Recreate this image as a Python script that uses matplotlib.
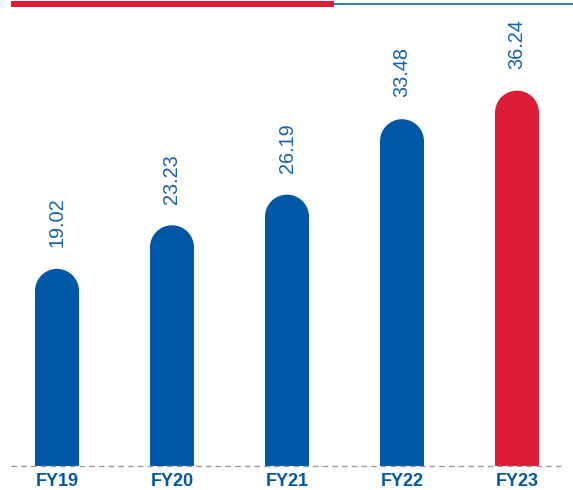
import matplotlib
matplotlib.use('Agg')
import matplotlib.pyplot as plt
from matplotlib.patches import Rectangle, Ellipse
from matplotlib.lines import Line2D

# data
years = ['FY19', 'FY20', 'FY21', 'FY22', 'FY23']
values = [19.02, 23.23, 26.19, 33.48, 36.24]

BLUE = '#0057A6'
LABEL_BLUE = '#1462AE'
RED = '#DC1B34'
bar_colors = [BLUE, BLUE, BLUE, BLUE, RED]

W, H = 573, 490
fig = plt.figure(figsize=(W / 100, H / 100), dpi=100)

# pixel layout: baseline at y=465.7 px from top, ~10.35 px per unit, bars every 115 px
base_px = H - 465.7
px_per_unit = 10.35
ax = fig.add_axes([0, base_px / H, 1, 1 - base_px / H])
ax.set_xlim(-57 / 115, (W - 57) / 115)
ax.set_ylim(0, (H - base_px) / px_per_unit)
ax.axis('off')

bw = 44 / 115
ry = 22 / px_per_unit
for i, (v, c) in enumerate(zip(values, bar_colors)):
    ax.add_patch(Rectangle((i - bw / 2, 0), bw, v - ry, color=c, lw=0))
    ax.add_patch(Ellipse((i, v - ry), bw, 2 * ry, color=c, lw=0))
    ax.text(i, v + 2.1, f'{v:.2f}', rotation=90, ha='center', va='bottom',
            color=LABEL_BLUE, fontsize=14.3, family='Liberation Sans')
    ax.text(i, -1.55, years[i], ha='center', va='center', color=BLUE,
            fontsize=13, fontweight='bold', family='Liberation Sans')

# dashed baseline
ax.plot([(11 - 57) / 115, (562 - 57) / 115], [0, 0], color='#9a9a9a',
        lw=1, ls=(0, (4, 3)), solid_capstyle='butt', clip_on=False)

# header rule: thick red then thin blue
fig.add_artist(Line2D([11 / W, 334 / W], [1 - 4.5 / H, 1 - 4.5 / H],
                      color=RED, lw=4.3, solid_capstyle='butt'))
fig.add_artist(Line2D([334 / W, 1], [1 - 4.5 / H, 1 - 4.5 / H],
                      color=BLUE, lw=1.1, solid_capstyle='butt'))

fig.savefig('out.png', dpi=100)
